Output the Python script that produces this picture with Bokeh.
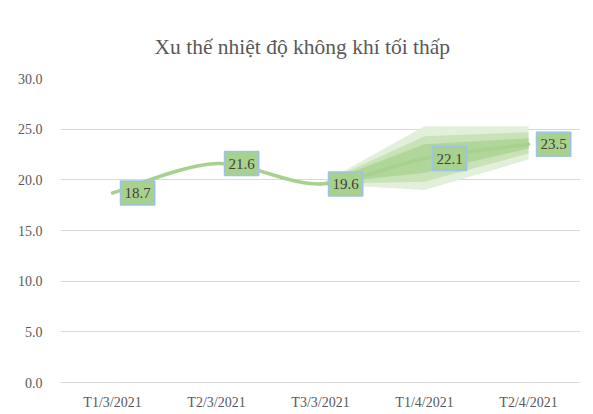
from bokeh.plotting import figure
from bokeh.models import Range1d, FixedTicker, NumeralTickFormatter, ColumnDataSource
from bokeh.core.properties import value
from bokeh.embed import file_html
from bokeh.resources import INLINE

# ---- data ----
categories = ["T1/3/2021", "T2/3/2021", "T3/3/2021", "T1/4/2021", "T2/4/2021"]
temps = [18.7, 21.6, 19.6, 22.1, 23.5]
labels = ["18.7", "21.6", "19.6", "22.1", "23.5"]

# forecast bands (from T3/3/2021 onwards)
band_idx = [2, 3, 4]
outer_low = [19.6, 19.0, 22.0]
outer_high = [19.6, 25.3, 25.3]
mid_low = [19.6, 19.8, 22.6]
mid_high = [19.6, 24.3, 24.7]
inner_low = [19.6, 20.7, 23.1]
inner_high = [19.6, 23.5, 24.1]

SERIF = "Liberation Serif"

p = figure(width=593, height=414, output_backend="svg", toolbar_location=None,
           x_range=Range1d(-0.5, 4.5), y_range=Range1d(0, 30),
           min_border_left=60, min_border_right=13, min_border_top=78, min_border_bottom=32)
p.outline_line_color = None
p.background_fill_color = "white"
p.border_fill_color = "white"

p.title.text = "Xu thế nhiệt  độ không khí tối thấp"
p.title.text_font = SERIF
p.title.text_font_size = "21.5px"
p.title.text_font_style = "normal"
p.title.text_color = "#595959"
p.title.align = "left"
p.title.offset = 94
p.title.standoff = 40

# axes
xs = list(range(len(categories)))
p.xaxis.ticker = FixedTicker(ticks=xs)
p.xaxis.major_label_overrides = {i: c for i, c in zip(xs, categories)}
p.xaxis.axis_line_color = "#d9d9d9"
p.xaxis.major_tick_line_color = None
p.xaxis.minor_tick_line_color = None
p.xaxis.major_label_text_font = SERIF
p.xaxis.major_label_text_font_size = "14px"
p.xaxis.major_label_text_color = "#595959"
p.xaxis.major_label_standoff = 6

p.yaxis.ticker = FixedTicker(ticks=[0, 5, 10, 15, 20, 25, 30])
p.yaxis.formatter = NumeralTickFormatter(format="0.0")
p.yaxis.axis_line_color = None
p.yaxis.major_tick_line_color = None
p.yaxis.minor_tick_line_color = None
p.yaxis.major_label_text_font = SERIF
p.yaxis.major_label_text_font_size = "14px"
p.yaxis.major_label_text_color = "#595959"
p.yaxis.major_label_standoff = 12

p.xgrid.grid_line_color = None
p.ygrid.grid_line_color = "#d9d9d9"
p.ygrid.ticker = FixedTicker(ticks=[0, 5, 10, 15, 20, 25, 30])

# bands
p.varea(x=band_idx, y1=outer_low, y2=outer_high, fill_color="#e2efda", fill_alpha=1)
p.varea(x=band_idx, y1=mid_low, y2=mid_high, fill_color="#c9e2b8", fill_alpha=1)
p.varea(x=band_idx, y1=inner_low, y2=inner_high, fill_color="#b1d699", fill_alpha=1)

# smoothed line (Excel-style Bezier through the data points)
n = len(temps)
x0, y0, x1, y1, cx0, cy0, cx1, cy1 = [], [], [], [], [], [], [], []
for i in range(n - 1):
    xp, yp = xs[max(i - 1, 0)], temps[max(i - 1, 0)]
    xa, ya = xs[i], temps[i]
    xb, yb = xs[i + 1], temps[i + 1]
    xn, yn = xs[min(i + 2, n - 1)], temps[min(i + 2, n - 1)]
    x0.append(xa); y0.append(ya); x1.append(xb); y1.append(yb)
    cx0.append(xa + (xb - xp) / 6); cy0.append(ya + (yb - yp) / 6)
    cx1.append(xb - (xn - xa) / 6); cy1.append(yb - (yn - ya) / 6)
p.bezier(x0=x0, y0=y0, x1=x1, y1=y1, cx0=cx0, cy0=cy0, cx1=cx1, cy1=cy1,
         line_color="#a9d18e", line_width=3.5, line_cap="round")

# data labels
src = ColumnDataSource(dict(x=xs, y=temps, t=labels))
p.text(x="x", y="y", text="t", source=src, x_offset=8, text_align="left",
       text_baseline="middle", text_font=value(SERIF), text_font_size="15px",
       text_color="#404040", background_fill_color="#a9d18e",
       border_line_color="#9dc3e6", border_line_width=1.5, padding=(4, 7))

open("out.html", "w").write(file_html(p, INLINE))
